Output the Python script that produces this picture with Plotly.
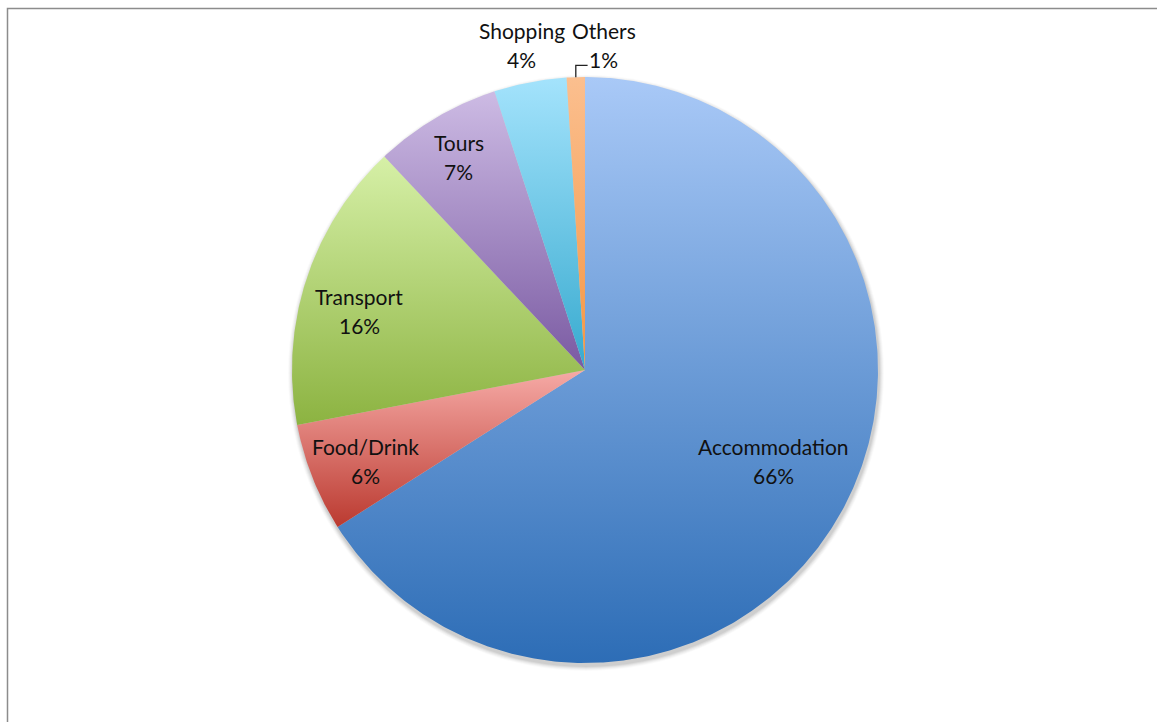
import numpy as np
import plotly.graph_objects as go

# Share of spending by category (percent)
categories = ["Accommodation", "Food/Drink", "Transport", "Tours", "Shopping", "Others"]
values = [66, 6, 16, 7, 4, 1]

# Vertical gradient per slice: (bottom colour, top colour)
slice_colors = [
    ("#2d6db6", "#a9c9f7"),
    ("#bb3a30", "#f6aaa6"),
    ("#8cb341", "#d6f0a7"),
    ("#7a5aa2", "#cdbbe4"),
    ("#37aacf", "#a4e3fc"),
    ("#f49643", "#fbbf8f"),
]

# label placement: radial factor along the slice's mid-angle, plus pixel nudges
label_style = {
    "Accommodation": dict(r=0.714, dx=5, dy=10),
    "Food/Drink": dict(r=0.81, dx=1, dy=-4),
    "Transport": dict(r=0.80, dx=-3, dy=-13),
    "Tours": dict(r=0.846, dx=0, dy=0),
    "Shopping": dict(r=1.13, dx=-1, dy=0),
    "Others": dict(r=1.13, dx=29, dy=-6),
}

W, H = 1157, 722
PX = 293.0          # pixels per unit radius
CX, CY = 585.0, 370.0

x_range = [-CX / PX, (W - CX) / PX]
y_range = [-(H - CY) / PX, CY / PX]

total = float(sum(values))
fig = go.Figure()

# soft drop shadow under the pie
shapes = []
for k, a in enumerate([0.06, 0.05, 0.04, 0.03, 0.02]):
    rr = 1.0 + (k + 1) / PX
    oy = -3.0 / PX
    shapes.append(dict(type="circle", xref="x", yref="y", layer="below",
                       x0=-rr + 1.0 / PX, x1=rr + 1.0 / PX, y0=oy - rr, y1=oy + rr,
                       fillcolor=f"rgba(0,0,0,{a})", line=dict(width=0)))

annotations = []
font = dict(family="Lato, Calibri, sans-serif", size=21, color="#111111")
cum = 0.0
for name, v, (c0, c1) in zip(categories, values, slice_colors):
    a0 = 90.0 - 360.0 * cum / total
    a1 = 90.0 - 360.0 * (cum + v) / total
    n = max(int(abs(a1 - a0) * 2), 4)
    th = np.radians(np.linspace(a0, a1, n))
    xs = np.concatenate([[0.0], np.cos(th), [0.0]])
    ys = np.concatenate([[0.0], np.sin(th), [0.0]])
    fig.add_trace(go.Scatter(
        x=xs, y=ys, mode="lines", fill="toself",
        line=dict(width=0, color=c1),
        fillgradient=dict(type="vertical", colorscale=[[0, c0], [1, c1]]),
        name=name, hoverinfo="skip", showlegend=False,
    ))
    mid = np.radians((a0 + a1) / 2.0)
    st = label_style[name]
    lx = st["r"] * np.cos(mid)
    ly = st["r"] * np.sin(mid)
    pct = f"{round(100 * v / total)}%"
    annotations.append(dict(x=lx, y=ly, xref="x", yref="y", text=name, showarrow=False,
                            xshift=st["dx"], yshift=st["dy"] + 14.5, font=font))
    annotations.append(dict(x=lx, y=ly, xref="x", yref="y", text=pct, showarrow=False,
                            xshift=st["dx"], yshift=st["dy"] - 14.5, font=font))
    if name == "Others":
        # elbow leader line from the slice edge to its outside label
        ex, ey = np.cos(mid), np.sin(mid)
        elbow_y = 1.04
        end_x = lx + (st["dx"] - 16) / PX
        fig.add_trace(go.Scatter(
            x=[ex, ex, end_x], y=[ey, elbow_y, elbow_y], mode="lines",
            line=dict(color="#222222", width=1.3), hoverinfo="skip", showlegend=False,
        ))
    cum += v

# chart frame
shapes.append(dict(type="rect", xref="paper", yref="paper",
                   x0=7.5 / W, x1=1.05, y0=-0.05, y1=1 - 8.5 / H,
                   line=dict(color="#8c8c8c", width=1.5), fillcolor="rgba(0,0,0,0)"))

fig.update_layout(
    width=W, height=H,
    margin=dict(l=0, r=0, t=0, b=0),
    paper_bgcolor="white", plot_bgcolor="white",
    xaxis=dict(range=x_range, visible=False, fixedrange=True),
    yaxis=dict(range=y_range, visible=False, fixedrange=True),
    shapes=shapes, annotations=annotations,
    showlegend=False,
)

fig.write_html("out.html")
